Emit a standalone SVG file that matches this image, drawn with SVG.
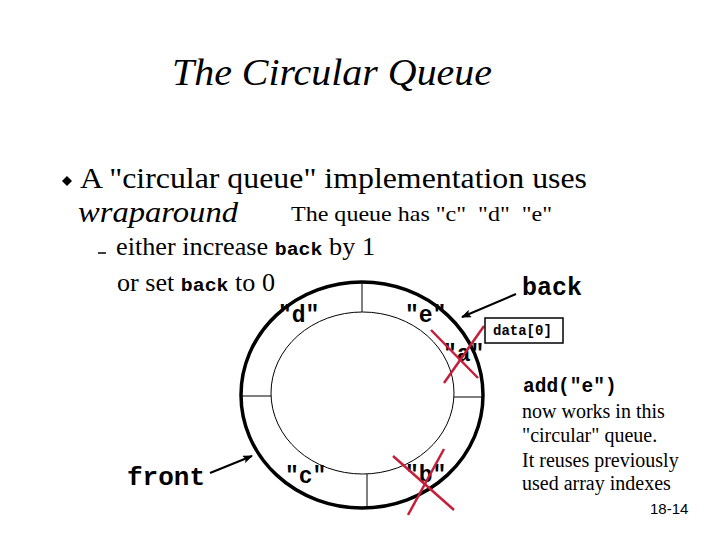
<svg xmlns="http://www.w3.org/2000/svg" width="720" height="540" viewBox="0 0 720 540">
<style>
.serif{font-family:"Liberation Serif","Times New Roman",serif;fill:#000}
.mono{font-family:"Liberation Mono","Courier New",monospace;font-weight:bold;fill:#000}
.sans{font-family:"Liberation Sans",Arial,sans-serif;fill:#000}
.cross{stroke:#C41E3A;stroke-width:2.5;fill:none}
.thin{stroke:#000;stroke-width:1;fill:none}
.arrow{stroke:#000;stroke-width:2;fill:none}
</style>
<defs>
<marker id="ah" markerWidth="10" markerHeight="8" refX="9" refY="4" orient="auto" markerUnits="userSpaceOnUse">
<path d="M0,0 L10,4 L0,8 L2,4 Z" fill="#000"/>
</marker>
</defs>
<rect width="720" height="540" fill="#fff"/>
<text class="serif" x="172" y="85" font-size="37" font-style="italic" textLength="320" lengthAdjust="spacingAndGlyphs">The Circular Queue</text>
<path d="M62,181 L67,176 L72,181 L67,186 Z" fill="#000"/>
<text class="serif" x="80" y="188" font-size="29" textLength="507" lengthAdjust="spacingAndGlyphs">A "circular queue" implementation uses</text>
<text class="serif" x="78" y="222" font-size="29" font-style="italic" textLength="160" lengthAdjust="spacingAndGlyphs">wraparound</text>
<text class="serif" x="291" y="221" font-size="21" xml:space="preserve" textLength="261" lengthAdjust="spacingAndGlyphs">The queue has "c"  "d"  "e"</text>
<line x1="98" y1="253" x2="106" y2="253" stroke="#000" stroke-width="1.5"/>
<text class="serif" x="116" y="255" font-size="25" textLength="259" lengthAdjust="spacingAndGlyphs">either increase <tspan class="mono" font-size="19">back</tspan> by 1</text>
<text class="serif" x="117" y="291" font-size="25" textLength="158" lengthAdjust="spacingAndGlyphs">or set <tspan class="mono" font-size="19">back</tspan> to 0</text>

<g id="ring">
<ellipse cx="362" cy="395" rx="121" ry="113" stroke="#000" stroke-width="3.5" fill="none"/>
<ellipse cx="362.5" cy="393" rx="91.5" ry="81" class="thin"/>
<line x1="362" y1="282" x2="362" y2="312" class="thin"/>
<line x1="454" y1="397" x2="483" y2="397" class="thin"/>
<line x1="241" y1="396" x2="271" y2="396" class="thin"/>
<line x1="367" y1="474" x2="367" y2="508" class="thin"/>
</g>
<g id="slots">
<text class="mono" x="278" y="322" font-size="23">"d"</text>
<text class="mono" x="405" y="322" font-size="23">"e"</text>
<text class="mono" x="443" y="361" font-size="23">"a"</text>
<text class="mono" x="285" y="483" font-size="23">"c"</text>
<text class="mono" x="405" y="482" font-size="23">"b"</text>
</g>
<g id="crosses">
<line x1="431" y1="330" x2="478" y2="378" class="cross"/>
<line x1="484" y1="326" x2="444" y2="383" class="cross"/>
<line x1="393" y1="456" x2="454" y2="510" class="cross"/>
<line x1="444" y1="449" x2="408" y2="515" class="cross"/>
</g>
<g id="back">
<text class="mono" x="522" y="295" font-size="25">back</text>
</g>
<g id="data0">
<rect x="485" y="318" width="78" height="25" fill="#fff" stroke="#000" stroke-width="1.5"/>
<text class="mono" x="493" y="335" font-size="14">data[0]</text>
</g>
<g id="front">
<text class="mono" x="127" y="485" font-size="26">front</text>
</g>
<g id="connectors">
<line x1="516" y1="294" x2="462" y2="317" class="arrow" marker-end="url(#ah)"/>
<line x1="210" y1="473" x2="252" y2="456" class="arrow" marker-end="url(#ah)"/>
</g>
<g id="note">
<text class="mono" x="523" y="392" font-size="19.5">add("e")</text>
<text class="serif" x="522" y="418" font-size="20">now works in this</text>
<text class="serif" x="522" y="442" font-size="20">"circular" queue.</text>
<text class="serif" x="522" y="467" font-size="20">It reuses previously</text>
<text class="serif" x="522" y="490" font-size="20">used array indexes</text>
<text class="sans" x="650" y="514" font-size="15">18-14</text>
</g>
</svg>
